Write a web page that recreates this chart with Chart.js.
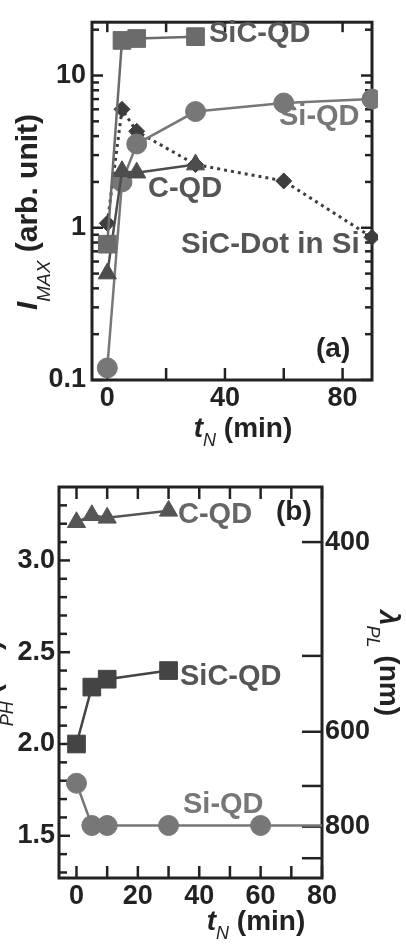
<!DOCTYPE html>
<html>
<head>
<meta charset="utf-8">
<script src="https://cdn.jsdelivr.net/npm/chart.js@4.4.1/dist/chart.umd.min.js"></script>
<style>
    html, body { margin: 0; padding: 0; background: #fff; }
    #wrapA { position: absolute; left: 0; top: 0; width: 406px; height: 450px; }
    #wrapB { position: absolute; left: 0; top: 450px; width: 406px; height: 501px; }
</style>
</head>
<body>
<div id="wrapA"><canvas id="chartA"></canvas></div>
<div id="wrapB"><canvas id="chartB"></canvas></div>
<script>
// ---- panel (a): peak intensity vs nitridation time ----
const aSicQdT = [0, 5, 10, 30];
const aSicQdI = [0.78, 17, 17.5, 18];
const aSiQdT = [0, 5, 10, 30, 60, 90];
const aSiQdI = [0.12, 2.0, 3.55, 5.8, 6.6, 7.0];
const aCQdT = [0, 5, 10, 30];
const aCQdI = [0.5, 2.35, 2.3, 2.6];
const aDotT = [0, 5, 10, 30, 60, 90];
const aDotI = [1.07, 6.0, 4.3, 2.6, 2.03, 0.865];

const aXLabels = [0, 40, 80];
const aXMarks = [0, 20, 40, 60, 80];
const aYLabels = [0.1, 1, 10];
const aYMinor = [0.2, 0.3, 0.4, 0.5, 0.6, 0.7, 0.8, 0.9, 2, 3, 4, 5, 6, 7, 8, 9, 20];

// ---- panel (b): photon energy vs nitridation time ----
const bCQdT = [0, 5, 10, 30];
const bCQdE = [3.208, 3.246, 3.232, 3.27];
const bSicQdT = [0, 5, 10, 30];
const bSicQdE = [2.0, 2.31, 2.353, 2.40];
const bSiQdT = [0, 5, 10, 30, 60, 90];
const bSiQdE = [1.786, 1.556, 1.556, 1.556, 1.556, 1.556];

const bXLabels = [0, 20, 40, 60, 80];
const bXMarks = [0, 10, 20, 30, 40, 50, 60, 70, 80];
const bYLabels = [1.5, 2.0, 2.5, 3.0];
const bYMarks = [1.3, 1.4, 1.6, 1.7, 1.8, 1.9, 2.1, 2.2, 2.3, 2.4, 2.6, 2.7, 2.8, 2.9, 3.1, 3.2, 3.3];
const bLambdaLabels = [400, 600, 800];
const bLambdaMarks = [400, 500, 600, 700, 800, 900];

const FAM = "'Liberation Sans', Arial, sans-serif";
const tickFont = { family: FAM, size: 27, weight: 'bold' };
const AXIS = '#222';

function pts(xs, ys) {
    return xs.map(function (x, i) { return { x: x, y: ys[i] }; });
}

function series(data, color, shape, radius, dash, extra) {
    return Object.assign({
        data: data,
        borderColor: color,
        backgroundColor: color,
        borderWidth: 2.5,
        borderDash: dash || [],
        pointStyle: shape,
        pointRadius: radius,
        pointHoverRadius: radius,
        pointBackgroundColor: color,
        pointBorderColor: color,
        pointBorderWidth: 1,
        tension: 0,
        fill: false
    }, extra || {});
}

// draws text made of pieces (for subscripts / italics)
function drawRich(ctx, parts, x, y, rot, align) {
    ctx.save();
    ctx.translate(x, y);
    ctx.rotate(rot);
    let total = 0;
    parts.forEach(function (p) { ctx.font = p.font; p.w = ctx.measureText(p.text).width; total += p.w; });
    let cx = align === 'center' ? -total / 2 : 0;
    ctx.textAlign = 'left';
    ctx.textBaseline = 'alphabetic';
    parts.forEach(function (p) {
        ctx.font = p.font;
        ctx.fillStyle = p.color || AXIS;
        ctx.fillText(p.text, cx, p.dy || 0);
        cx += p.w;
    });
    ctx.restore();
}

// frame, inward tick marks and text labels
function decor(marks, texts) {
    return {
        id: 'decor',
        beforeDatasetsDraw: function (chart) {
            const ctx = chart.ctx, a = chart.chartArea;
            ctx.save();
            ctx.strokeStyle = AXIS;
            ctx.lineWidth = 2.5;
            marks.forEach(function (m) {
                const sc = chart.scales[m.scale];
                m.values.forEach(function (v) {
                    const p = sc.getPixelForValue(m.map ? m.map(v) : v);
                    ctx.beginPath();
                    if (m.side === 'bottom') { ctx.moveTo(p, a.bottom); ctx.lineTo(p, a.bottom - m.len); }
                    if (m.side === 'top') { ctx.moveTo(p, a.top); ctx.lineTo(p, a.top + m.len); }
                    if (m.side === 'left') { ctx.moveTo(a.left, p); ctx.lineTo(a.left + m.len, p); }
                    if (m.side === 'right') { ctx.moveTo(a.right, p); ctx.lineTo(a.right - m.len, p); }
                    ctx.stroke();
                });
            });
            ctx.lineWidth = 3;
            ctx.strokeRect(a.left, a.top, a.right - a.left, a.bottom - a.top);
            ctx.restore();
        },
        afterDatasetsDraw: function (chart) {
            const ctx = chart.ctx;
            texts.forEach(function (t) {
                drawRich(ctx, t.parts, t.x, t.y, t.rot || 0, t.align || 'left');
            });
        }
    };
}

const bold = function (s) { return 'bold ' + s + 'px ' + FAM; };
const ital = function (s) { return 'italic bold ' + s + 'px ' + FAM; };
const italN = function (s) { return 'italic ' + s + 'px ' + FAM; };
const lbl = function (txt, color, x, y, size) {
    return { parts: [{ text: txt, font: bold(size || 29), color: color }], x: x, y: y };
};

// ---------- chart (a) ----------
new Chart(document.getElementById('chartA'), {
    type: 'line',
    data: {
        datasets: [
            series(pts(aSicQdT, aSicQdI), '#6b6b6b', 'rect', 12.5, null, { clip: 6 }),
            series(pts(aCQdT, aCQdI), '#4d4d4d', 'triangle', 10.5, null, { clip: 6 }),
            series(pts(aSiQdT, aSiQdI), '#777777', 'circle', 10, null, { clip: 6 }),
            series(pts(aDotT, aDotI), '#3d3d3d', 'rectRot', 8, [3, 4], { borderWidth: 3, clip: 6 })
        ]
    },
    options: {
        responsive: true,
        maintainAspectRatio: false,
        animation: false,
        layout: { padding: { top: 6, right: 34, left: 0, bottom: 0 } },
        plugins: { legend: { display: false }, tooltip: { enabled: false } },
        scales: {
            x: {
                type: 'linear', min: -5.2, max: 90,
                grid: { display: false, drawTicks: false },
                border: { display: false },
                afterBuildTicks: function (s) { s.ticks = aXLabels.map(function (v) { return { value: v }; }); },
                afterFit: function (s) { s.height = 70; },
                ticks: { font: tickFont, color: AXIS, padding: 2, maxRotation: 0, autoSkip: false }
            },
            y: {
                type: 'logarithmic', min: 0.1, max: 22.4,
                grid: { display: false, drawTicks: false },
                border: { display: false },
                afterBuildTicks: function (s) { s.ticks = aYLabels.map(function (v) { return { value: v }; }); },
                afterFit: function (s) { s.width = 92; },
                ticks: {
                    font: tickFont, color: AXIS, padding: 6, autoSkip: false,
                    callback: function (v) { return String(v); }
                }
            }
        }
    },
    plugins: [decor([
        { scale: 'x', side: 'bottom', len: 12, values: aXMarks },
        { scale: 'x', side: 'top', len: 10, values: aXMarks },
        { scale: 'y', side: 'left', len: 11, values: aYLabels },
        { scale: 'y', side: 'left', len: 7, values: aYMinor },
        { scale: 'y', side: 'right', len: 11, values: aYLabels },
        { scale: 'y', side: 'right', len: 7, values: aYMinor }
    ], [
        lbl('SiC-QD', '#5a5a5a', 209, 42),
        lbl('Si-QD', '#777777', 279, 125),
        lbl('C-QD', '#555555', 148, 197),
        lbl('SiC-Dot in Si', '#555555', 181, 253, 29.5),
        lbl('(a)', AXIS, 316, 357, 28),
        {
            parts: [
                { text: 'I', font: ital(30) },
                { text: 'MAX', font: italN(19), dy: 13 },
                { text: ' (arb. unit)', font: bold(30) }
            ], x: 37, y: 212, rot: -Math.PI / 2, align: 'center'
        },
        {
            parts: [
                { text: 't', font: ital(28) },
                { text: 'N', font: italN(18), dy: 9 },
                { text: ' (min)', font: bold(28) }
            ], x: 243, y: 437, align: 'center'
        }
    ])]
});

// ---------- chart (b) ----------
new Chart(document.getElementById('chartB'), {
    type: 'line',
    data: {
        datasets: [
            series(pts(bCQdT, bCQdE), '#555555', 'triangle', 10.5),
            series(pts(bSicQdT, bSicQdE), '#444444', 'rect', 12.5),
            series(pts(bSiQdT, bSiQdE), '#777777', 'circle', 10)
        ]
    },
    options: {
        responsive: true,
        maintainAspectRatio: false,
        animation: false,
        layout: { padding: { top: 37, right: 0, left: 0, bottom: 0 } },
        plugins: { legend: { display: false }, tooltip: { enabled: false } },
        scales: {
            x: {
                type: 'linear', min: -5.7, max: 80,
                grid: { display: false, drawTicks: false },
                border: { display: false },
                afterBuildTicks: function (s) { s.ticks = bXLabels.map(function (v) { return { value: v }; }); },
                afterFit: function (s) { s.height = 73; },
                ticks: { font: tickFont, color: AXIS, padding: 2, maxRotation: 0, autoSkip: false }
            },
            y: {
                type: 'linear', min: 1.27, max: 3.4,
                grid: { display: false, drawTicks: false },
                border: { display: false },
                afterBuildTicks: function (s) { s.ticks = bYLabels.map(function (v) { return { value: v }; }); },
                afterFit: function (s) { s.width = 59; },
                ticks: {
                    font: tickFont, color: AXIS, padding: 4, autoSkip: false,
                    callback: function (v) { return v.toFixed(1); }
                }
            },
            y2: {
                type: 'linear', position: 'right', min: 1.27, max: 3.4,
                grid: { display: false, drawTicks: false },
                border: { display: false },
                afterBuildTicks: function (s) { s.ticks = bLambdaLabels.map(function (l) { return { value: 1240 / l }; }); },
                afterFit: function (s) { s.width = 84; },
                ticks: {
                    font: tickFont, color: AXIS, padding: 3, autoSkip: false,
                    callback: function (v) { return String(Math.round(1240 / v)); }
                }
            }
        }
    },
    plugins: [decor([
        { scale: 'x', side: 'bottom', len: 12, values: bXMarks },
        { scale: 'x', side: 'top', len: 12, values: bXMarks },
        { scale: 'y', side: 'left', len: 11, values: bYLabels },
        { scale: 'y', side: 'left', len: 8, values: bYMarks },
        { scale: 'y2', side: 'right', len: 20, values: bLambdaMarks, map: function (l) { return 1240 / l; } }
    ], [
        lbl('C-QD', '#666666', 178, 73),
        lbl('(b)', AXIS, 276, 70, 28),
        lbl('SiC-QD', '#555555', 180, 235),
        lbl('Si-QD', '#777777', 183, 363),
        {
            parts: [
                { text: 'E', font: ital(28) },
                { text: 'PH', font: italN(18), dy: 13 },
                { text: ' (eV)', font: bold(28) }
            ], x: 0, y: 295, rot: -Math.PI / 2, align: 'left'
        },
        {
            parts: [
                { text: '\u03bb', font: ital(28) },
                { text: 'PL', font: italN(18), dy: 13 },
                { text: ' (nm)', font: bold(28) }
            ], x: 380, y: 160, rot: Math.PI / 2, align: 'left'
        },
        {
            parts: [
                { text: 't', font: ital(28) },
                { text: 'N', font: italN(18), dy: 9 },
                { text: ' (min)', font: bold(28) }
            ], x: 256, y: 480, align: 'center'
        }
    ])]
});
</script>
</body>
</html>
